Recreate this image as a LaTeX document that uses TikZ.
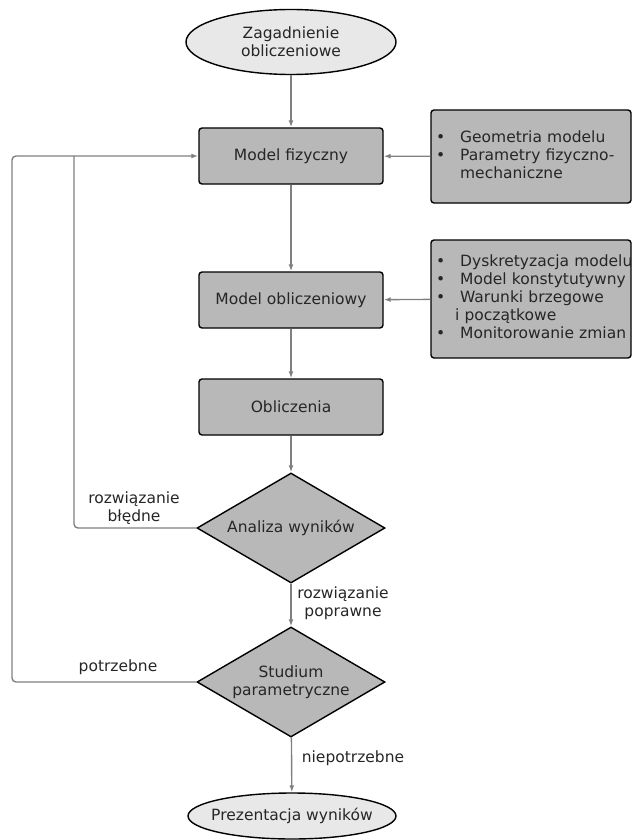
\documentclass[tikz,border=0pt]{standalone}
\usepackage{fontspec}
\setmainfont{DejaVu Sans}
\usetikzlibrary{arrows.meta,shapes.geometric}
\definecolor{boxgray}{gray}{0.72}
\definecolor{ovalgray}{gray}{0.91}
\definecolor{linegray}{gray}{0.5}
\tikzset{flow/.style={draw=linegray,line width=1.4pt,-{Latex[length=7pt,width=5pt]}}}

\begin{document}
\begin{tikzpicture}[x=1pt,y=-1pt,
            font=\fontsize{15.5}{18}\selectfont,
            every node/.style={text=black!85},
            block/.style={rectangle,rounded corners=3pt,draw,line width=1.4pt,fill=boxgray,minimum width=184pt,minimum height=56pt},
            oval/.style={ellipse,draw,line width=1.4pt,fill=ovalgray,align=center,inner sep=0pt},
            decision/.style={diamond,shape aspect=1.7,draw,line width=1.4pt,fill=boxgray,align=center,inner sep=0pt,minimum width=188pt,minimum height=110pt},
            info/.style={rectangle,rounded corners=3pt,draw,line width=1.4pt,fill=boxgray,text width=190pt,inner xsep=5pt,align=left}
            ]
            \useasboundingbox (0,0) rectangle (637,840);
            \node[oval,minimum width=210pt,minimum height=65pt] (start) at (291,42) {Zagadnienie\\obliczeniowe};
            \node[block] (fiz) at (291,156) {Model fizyczny};
            \node[block] (oblm) at (291,300) {Model obliczeniowy};
            \node[block] (obl) at (291,407) {Obliczenia};
            \node[decision] (analiza) at (291,528) {Analiza wyników};
            \node[decision] (studium) at (291,682) {Studium\\parametryczne};
            \node[oval,inner xsep=-8pt,minimum width=208pt,minimum height=46pt] (end) at (292,816) {Prezentacja wyników};
            \node[info,minimum height=93pt] (info1) at (531,156.5) {%
                \begin{tabular}{@{}l@{\hspace{15pt}}l@{}}
                \textbullet & Geometria modelu\\
                \textbullet & Parametry fizyczno-\\
                            & mechaniczne
                \end{tabular}};
            \node[info,minimum height=118pt] (info2) at (531,299) {%
                \begin{tabular}{@{}l@{\hspace{15pt}}l@{}}
                \textbullet & Dyskretyzacja modelu\\
                \textbullet & Model konstytutywny\\
                \textbullet & Warunki brzegowe\\
                            & \hspace{-5pt}i początkowe\\
                \textbullet & Monitorowanie zmian
                \end{tabular}};
            \coordinate (outer) at (12,0);
            \coordinate (inner) at (74,0);
            \draw[flow] (start) -- (fiz);
            \draw[flow] (fiz) -- (oblm);
            \draw[flow] (oblm) -- (obl);
            \draw[flow] (obl) -- (analiza);
            \draw[flow] (analiza) -- (studium);
            \draw[flow] (studium) -- (end);
            \draw[flow] (info1) -- (fiz);
            \draw[flow] (info2) -- (oblm);
            \draw[flow,rounded corners=4pt] (studium.west) -- (outer |- studium.west) -- (outer |- fiz.west) -- (fiz.west);
            \draw[draw=linegray,line width=1.4pt,rounded corners=4pt] (analiza.west) -- (inner |- analiza.west) -- (inner |- fiz.west);
            \node[align=center] (bad) at (134,508) {rozwiązanie\\błędne};
            \node[align=center] (good) at (343,603) {rozwiązanie\\poprawne};
            \node (need) at (118,667) {potrzebne};
            \node (noneed) at (353,758) {niepotrzebne};
        \end{tikzpicture}
\end{document}
